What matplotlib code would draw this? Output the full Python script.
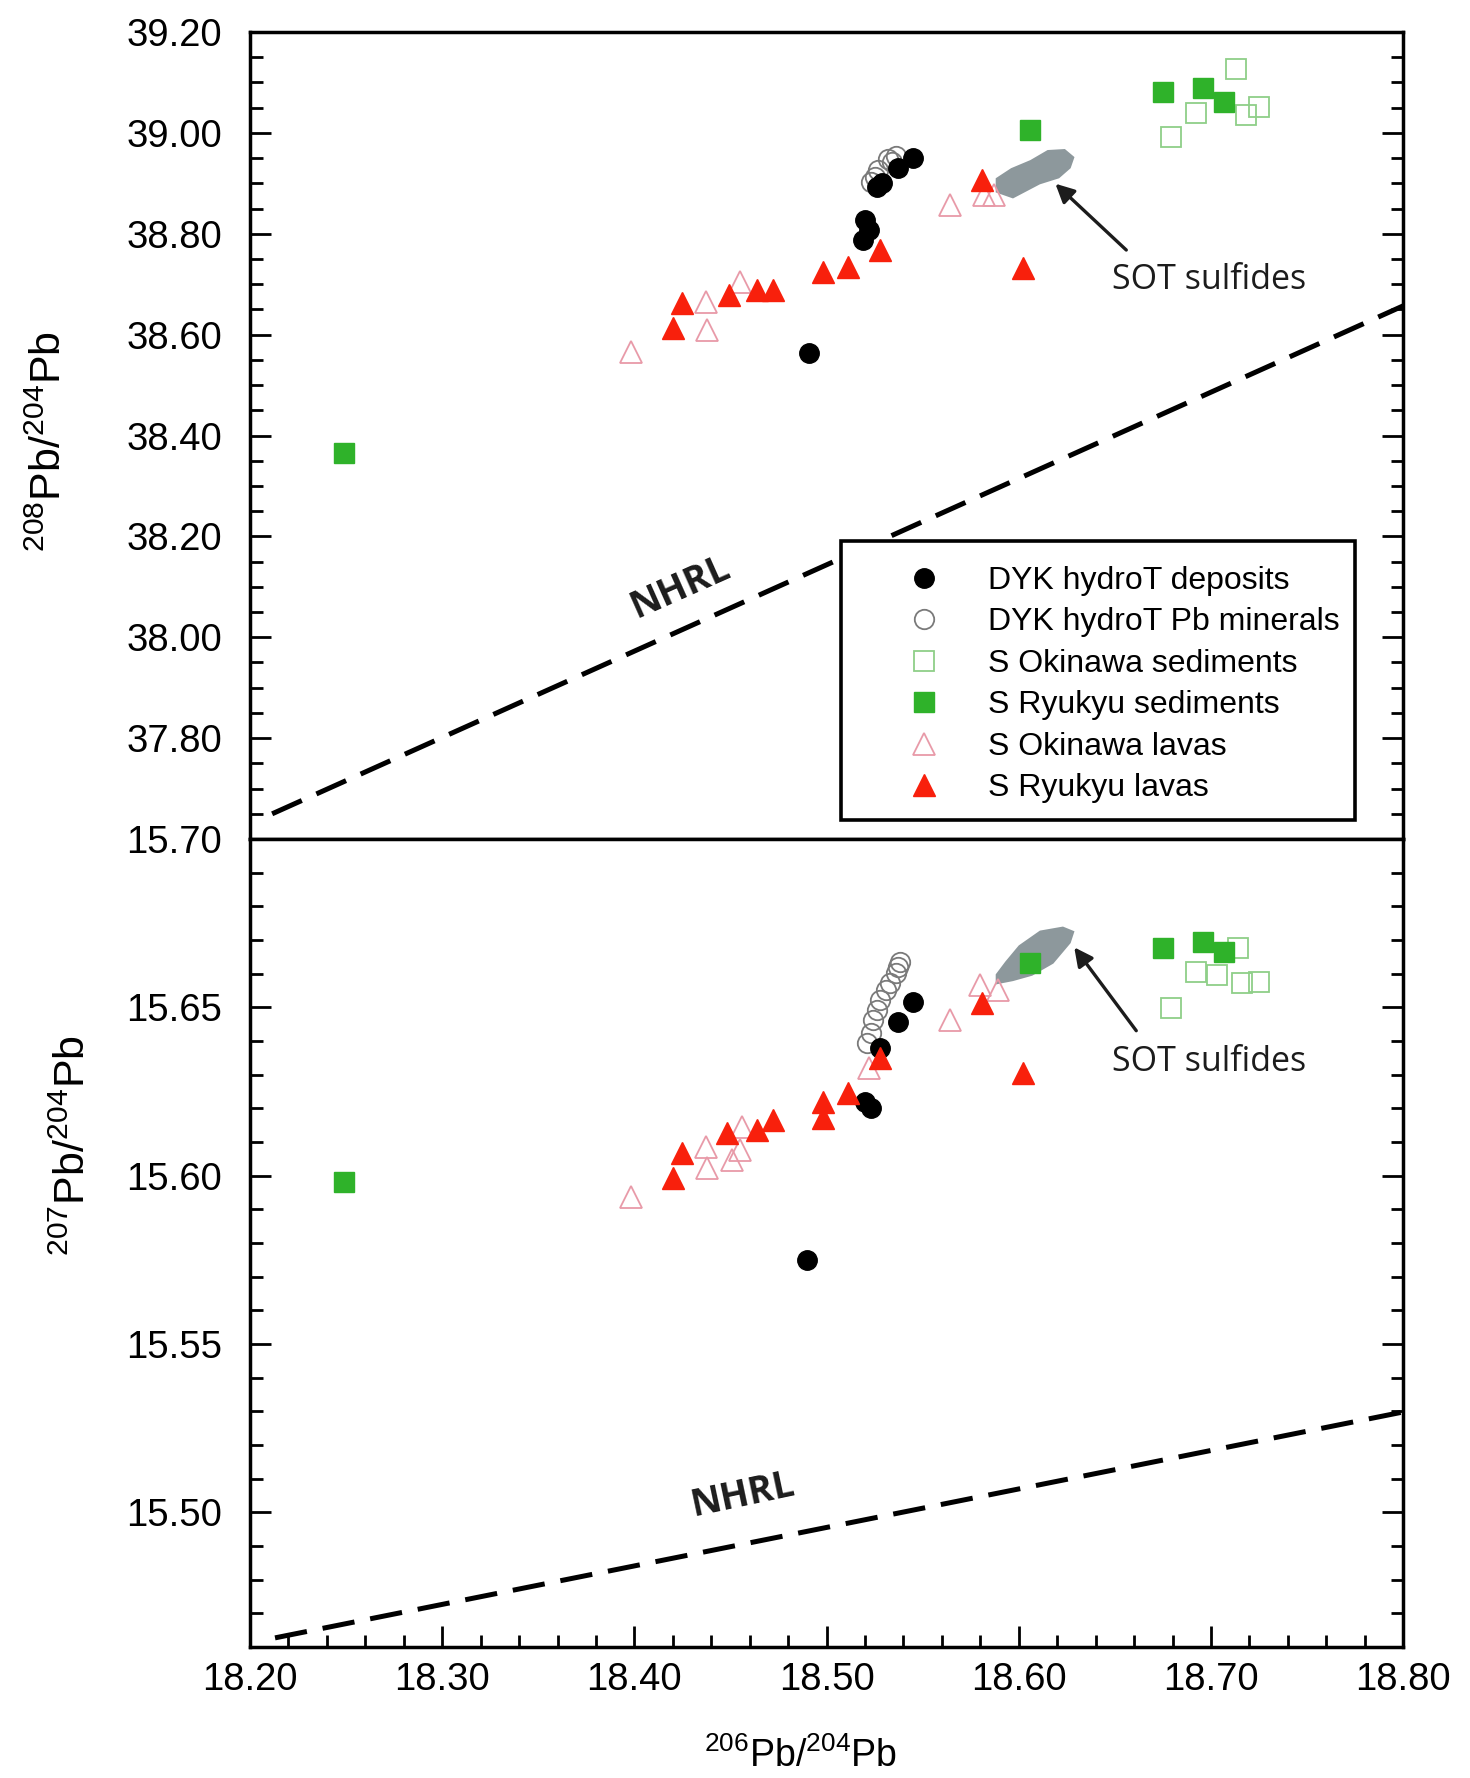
import matplotlib
matplotlib.use("Agg")
import matplotlib.pyplot as plt
from matplotlib.ticker import MultipleLocator, FormatStrFormatter
from matplotlib.lines import Line2D
from matplotlib.patches import Rectangle

plt.rcParams['font.family'] = ['Liberation Sans', 'DejaVu Sans']
plt.rcParams['mathtext.fontset'] = 'custom'
plt.rcParams['mathtext.rm'] = 'Liberation Sans'

# ---- data: 208Pb/204Pb vs 206Pb/204Pb (top panel) ----
dep_x_top = [18.491, 18.520, 18.522, 18.519, 18.526, 18.529, 18.537, 18.545]
dep_y_top = [38.564, 38.827, 38.807, 38.788, 38.893, 38.900, 38.930, 38.950]

min_x_top = [18.523, 18.527, 18.532, 18.536, 18.534, 18.525]
min_y_top = [38.903, 38.926, 38.948, 38.955, 38.942, 38.912]

oki_sed_x_top = [18.713, 18.692, 18.679, 18.718, 18.725]
oki_sed_y_top = [39.127, 39.039, 38.992, 39.035, 39.051]

ryu_sed_x_top = [18.249, 18.606, 18.675, 18.696, 18.707]
ryu_sed_y_top = [38.365, 39.006, 39.081, 39.089, 39.061]

oki_lav_x_top = [18.398, 18.438, 18.437, 18.455, 18.564, 18.582, 18.587]
oki_lav_y_top = [38.566, 38.609, 38.665, 38.704, 38.857, 38.877, 38.877]

ryu_lav_x_top = [18.420, 18.425, 18.449, 18.464, 18.472, 18.498, 18.511, 18.528, 18.581, 18.602]
ryu_lav_y_top = [38.613, 38.663, 38.679, 38.689, 38.689, 38.724, 38.734, 38.768, 38.907, 38.732]

sot_x_top = [18.588, 18.597, 18.611, 18.621, 18.627, 18.629, 18.624, 18.615, 18.606, 18.596, 18.588]
sot_y_top = [38.882, 38.870, 38.898, 38.910, 38.930, 38.952, 38.968, 38.966, 38.946, 38.930, 38.910]

nhrl_x_top = [18.2115, 18.80]
nhrl_y_top = [37.650, 38.657]

# ---- data: 207Pb/204Pb vs 206Pb/204Pb (bottom panel) ----
dep_x_bot = [18.490, 18.520, 18.523, 18.528, 18.537, 18.545]
dep_y_bot = [15.575, 15.6219, 15.6201, 15.6379, 15.6456, 15.6516]

min_x_bot = [18.521, 18.523, 18.524, 18.526, 18.528, 18.531, 18.533, 18.536, 18.537, 18.538]
min_y_bot = [15.6394, 15.6424, 15.6462, 15.6492, 15.6522, 15.6551, 15.6572, 15.6602, 15.6620, 15.6635]

oki_sed_x_bot = [18.714, 18.692, 18.703, 18.716, 18.725, 18.679]
oki_sed_y_bot = [15.6676, 15.6605, 15.6596, 15.6572, 15.6575, 15.6498]

ryu_sed_x_bot = [18.249, 18.606, 18.675, 18.696, 18.707]
ryu_sed_y_bot = [15.598, 15.6632, 15.6676, 15.6694, 15.6664]

oki_lav_x_bot = [18.398, 18.438, 18.437, 18.451, 18.455, 18.456, 18.522, 18.564, 18.580, 18.589]
oki_lav_y_bot = [15.5937, 15.6023, 15.6085, 15.6047, 15.6076, 15.6145, 15.6320, 15.6462, 15.6566, 15.6551]

ryu_lav_x_bot = [18.420, 18.425, 18.448, 18.464, 18.472, 18.498, 18.498, 18.511, 18.528, 18.581, 18.602]
ryu_lav_y_bot = [15.5993, 15.6067, 15.6127, 15.6136, 15.6165, 15.6219, 15.6171, 15.6246, 15.6350, 15.6513, 15.6305]

sot_x_bot = [18.588, 18.597, 18.607, 18.618, 18.627, 18.629, 18.623, 18.611, 18.600, 18.593, 18.588]
sot_y_bot = [15.6568, 15.6578, 15.6594, 15.6630, 15.6691, 15.6726, 15.6740, 15.6728, 15.6684, 15.6636, 15.6598]

nhrl_x_bot = [18.213, 18.80]
nhrl_y_bot = [15.4627, 15.5298]

labels = ['DYK hydroT deposits', 'DYK hydroT Pb minerals', 'S Okinawa sediments',
          'S Ryukyu sediments', 'S Okinawa lavas', 'S Ryukyu lavas']

# styles
GREEN = '#2fb22a'
RED = '#f8200c'
PINK = '#e89aa8'
LGREEN = '#8fcf88'
GRAY = '#8d989c'
styles = [
    dict(marker='o', mfc='black', mec='black', ms=14, mew=1),
    dict(marker='o', mfc='none', mec='#7a7a7a', ms=14, mew=1.3),
    dict(marker='s', mfc='none', mec=LGREEN, ms=14, mew=1.3),
    dict(marker='s', mfc=GREEN, mec=GREEN, ms=14, mew=1),
    dict(marker='^', mfc='none', mec=PINK, ms=16, mew=1.3),
    dict(marker='^', mfc=RED, mec=RED, ms=16, mew=1),
]

fig = plt.figure(figsize=(14.7, 17.78), dpi=100)
ax1 = fig.add_axes([0.1701, 0.5281, 0.7844, 0.4539])
ax2 = fig.add_axes([0.1701, 0.0737, 0.7844, 0.4544])

def draw(ax, sets, sot_x, sot_y, nx, ny):
    ax.fill(sot_x, sot_y, color=GRAY, lw=0, zorder=2)
    order = [1, 2, 4, 0, 3, 5]
    for i in order:
        x, y = sets[i]
        ax.plot(x, y, ls='none', zorder=3, **styles[i])
    ax.plot(nx, ny, color='black', lw=3.6, dashes=(6.5, 3.2), zorder=1)

draw(ax1, [(dep_x_top, dep_y_top), (min_x_top, min_y_top), (oki_sed_x_top, oki_sed_y_top),
           (ryu_sed_x_top, ryu_sed_y_top), (oki_lav_x_top, oki_lav_y_top), (ryu_lav_x_top, ryu_lav_y_top)],
     sot_x_top, sot_y_top, nhrl_x_top, nhrl_y_top)
draw(ax2, [(dep_x_bot, dep_y_bot), (min_x_bot, min_y_bot), (oki_sed_x_bot, oki_sed_y_bot),
           (ryu_sed_x_bot, ryu_sed_y_bot), (oki_lav_x_bot, oki_lav_y_bot), (ryu_lav_x_bot, ryu_lav_y_bot)],
     sot_x_bot, sot_y_bot, nhrl_x_bot, nhrl_y_bot)

for ax in (ax1, ax2):
    ax.set_xlim(18.2, 18.8)
    for s in ax.spines.values():
        s.set_linewidth(2.5)
    ax.xaxis.set_major_locator(MultipleLocator(0.1))
    ax.xaxis.set_minor_locator(MultipleLocator(0.02))
    ax.xaxis.set_major_formatter(FormatStrFormatter('%.2f'))
    ax.yaxis.set_major_formatter(FormatStrFormatter('%.2f'))
    ax.tick_params(which='both', direction='in', left=True, right=True, top=False, width=2)
    ax.tick_params(which='major', length=15, labelsize=27.5)
    ax.tick_params(which='minor', length=9)
    ax.tick_params(axis='y', pad=20)
    ax.tick_params(axis='x', pad=11)

ax1.set_ylim(37.6, 39.2)
ax1.set_yticks([37.8, 38.0, 38.2, 38.4, 38.6, 38.8, 39.0, 39.2])
ax1.yaxis.set_minor_locator(MultipleLocator(0.05))
ax1.tick_params(axis='x', which='both', bottom=False, labelbottom=False)

ax2.set_ylim(15.46, 15.70)
ax2.set_yticks([15.50, 15.55, 15.60, 15.65, 15.70])
ax2.yaxis.set_minor_locator(MultipleLocator(0.01))

# annotations
tfont = dict(family=['Open Sans', 'DejaVu Sans'], color='#1c1c1c')
ax1.annotate('', xy=(18.618, 38.903), xytext=(18.657, 38.764),
             arrowprops=dict(arrowstyle='-|>', color='#1c1c1c', lw=2.4, mutation_scale=28), zorder=4)
ax1.text(18.6486, 38.708, 'SOT sulfides', va='center', ha='left', fontsize=24.5, **tfont)
ax2.annotate('', xy=(18.628, 15.6685), xytext=(18.662, 15.6424),
             arrowprops=dict(arrowstyle='-|>', color='#1c1c1c', lw=2.4, mutation_scale=28), zorder=4)
ax2.text(18.6486, 15.6338, 'SOT sulfides', va='center', ha='left', fontsize=24.5, **tfont)

ax1.text(18.424, 38.098, 'NHRL', rotation=24, ha='center', va='center',
         fontweight='bold', fontsize=27, **tfont)
ax2.text(18.4566, 15.5051, 'NHRL', rotation=12, ha='center', va='center',
         fontweight='bold', fontsize=27, **tfont)

# legend: frame drawn as a patch, entries placed without frame
ax1.add_patch(Rectangle((0.5126, 0.0235), 0.4458, 0.3458, transform=ax1.transAxes,
                        facecolor='white', edgecolor='black', lw=2.6, zorder=5))
handles = [Line2D([], [], ls='none', **st) for st in styles]
leg = ax1.legend(handles, labels, loc='upper left', bbox_to_anchor=(0.5707, 0.3385),
                 borderaxespad=0, borderpad=0, fontsize=23, frameon=False,
                 labelspacing=0.36, handlelength=1.0, handletextpad=1.5)
leg.set_zorder(6)

fig.text(0.034, 1 - 442 / 1778, r'$^{208}$Pb/$^{204}$Pb', rotation=90, ha='center', va='center', fontsize=31)
fig.text(0.050, 1 - 1146 / 1778, r'$^{207}$Pb/$^{204}$Pb', rotation=90, ha='center', va='center', fontsize=31)
fig.text(800 / 1470, 1 - 1756 / 1778, r'$^{206}$Pb/$^{204}$Pb', ha='center', va='center', fontsize=27)

fig.savefig('out.png', dpi=100)
